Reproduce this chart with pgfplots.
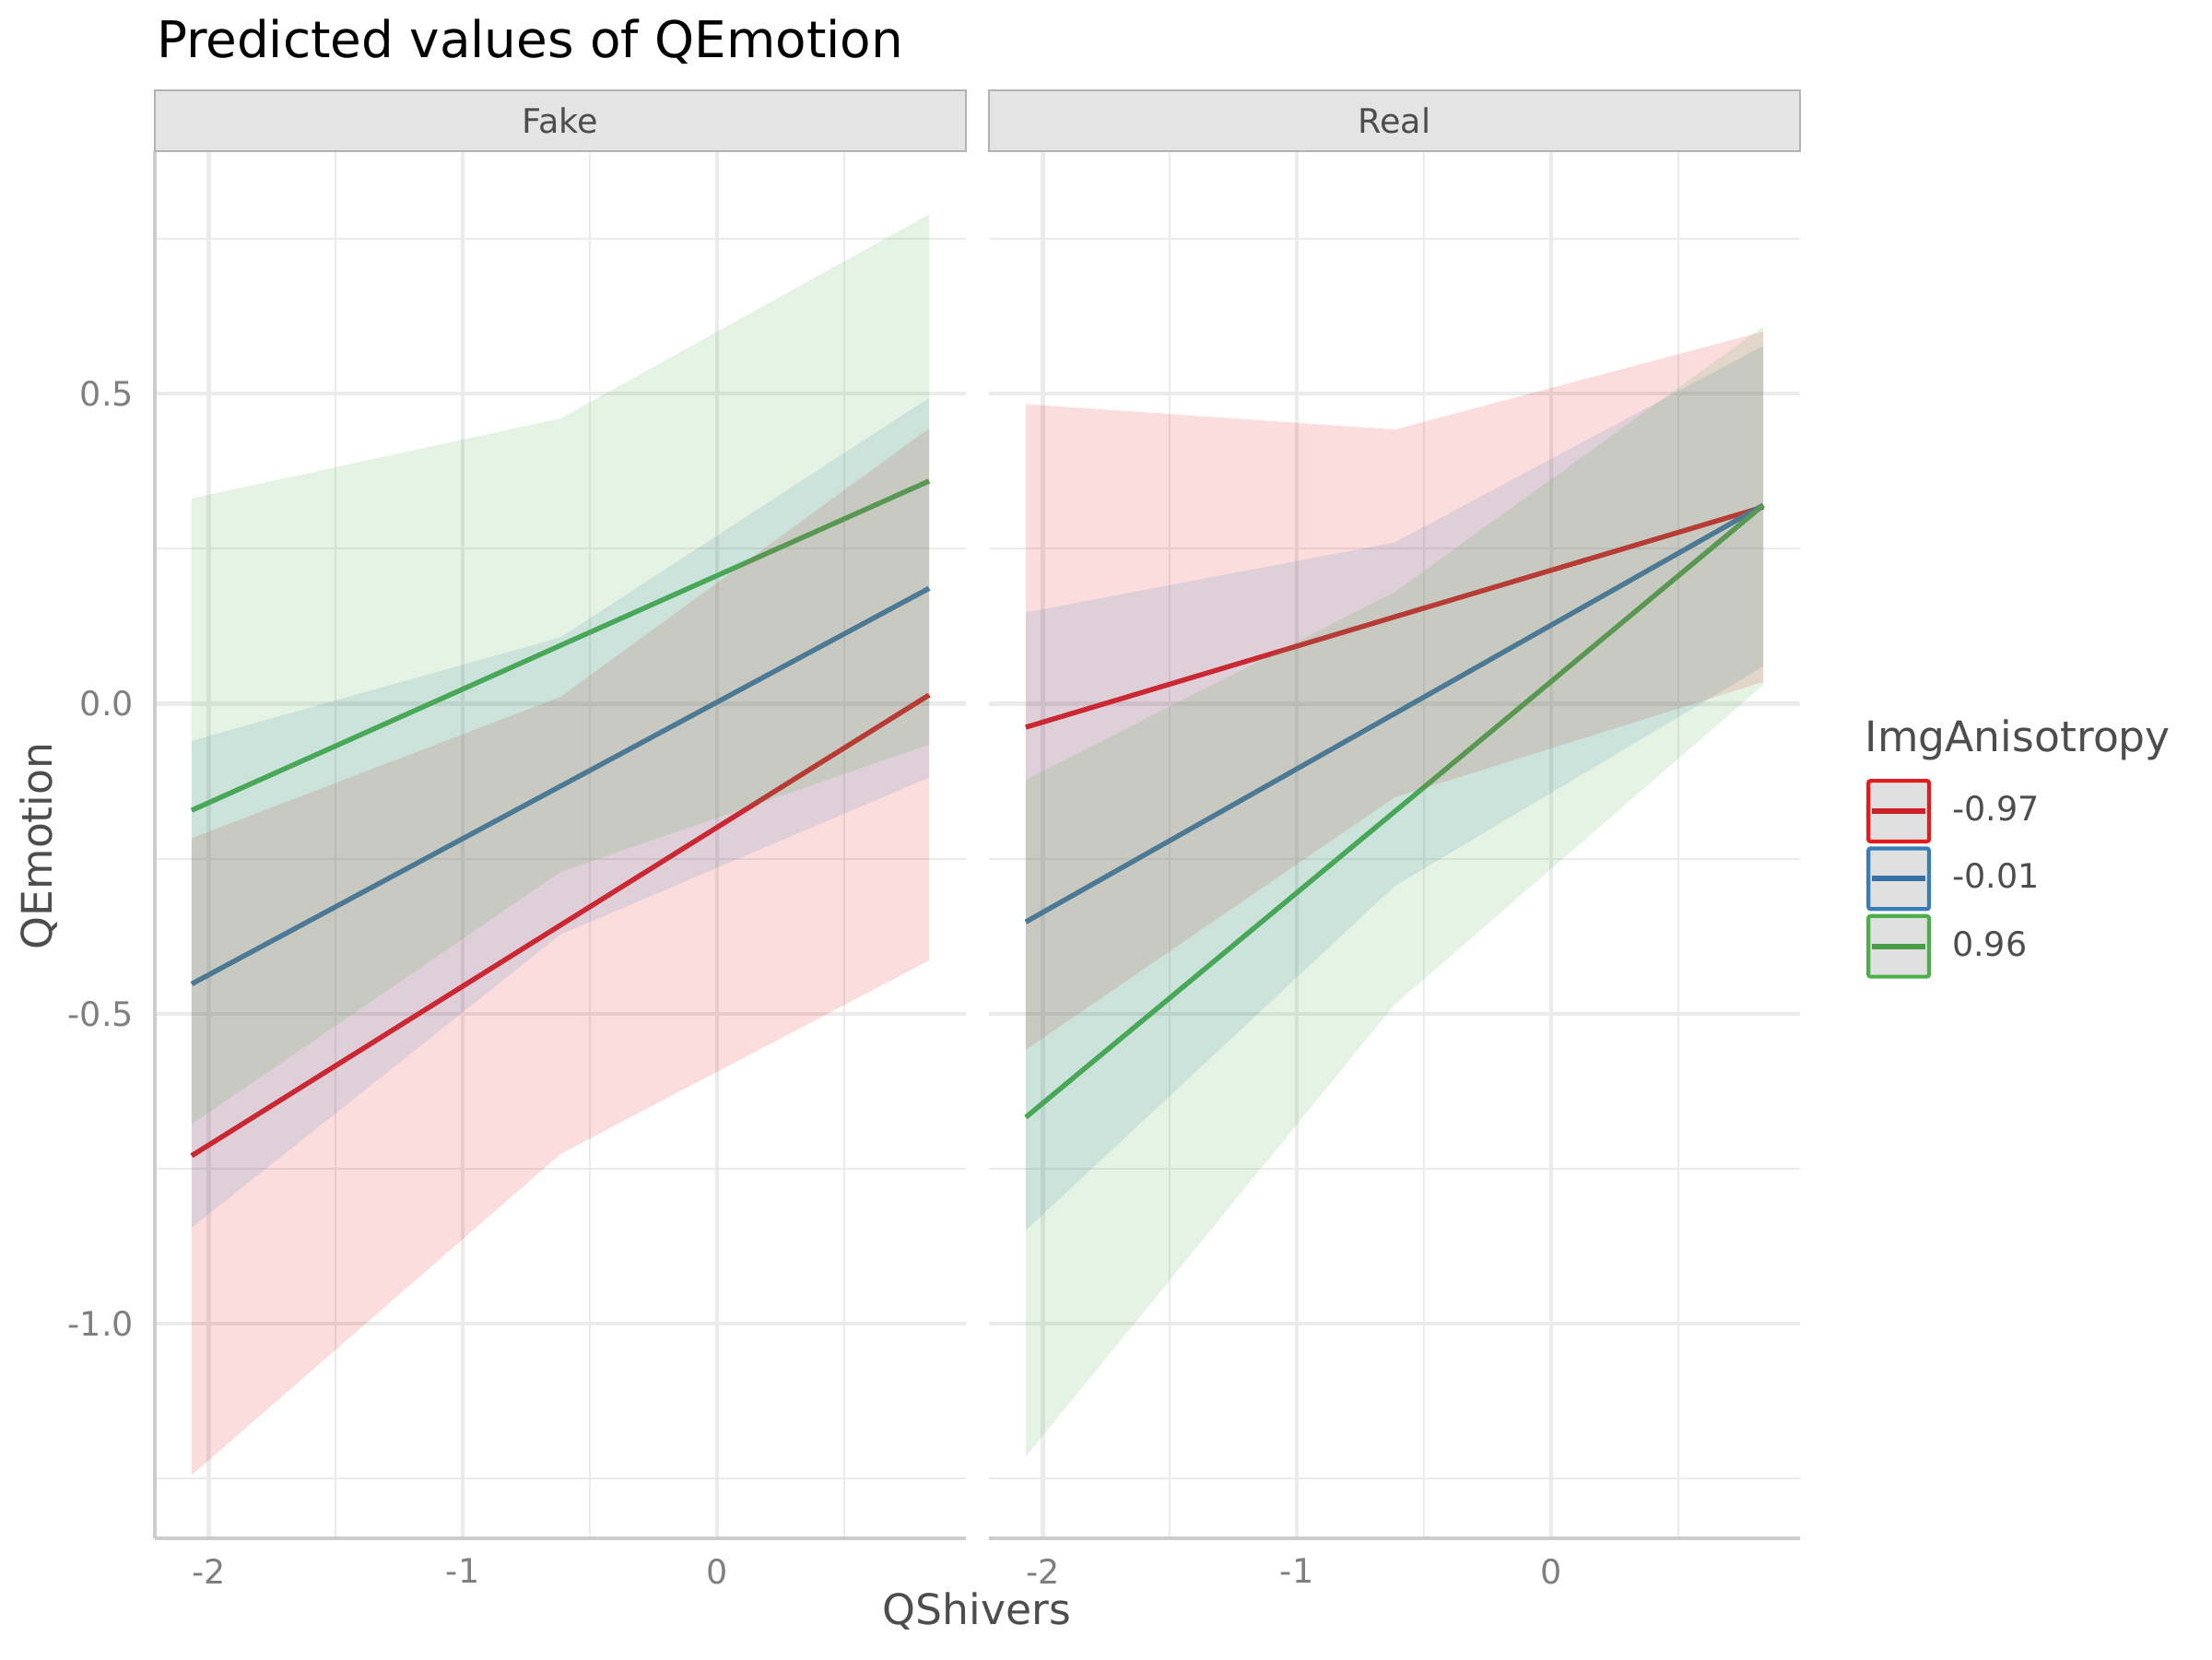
\documentclass[border=0pt]{standalone}
\usepackage{fontspec}
\setmainfont{DejaVu Sans}
\usepackage{pgfplots}
\pgfplotsset{compat=1.18}
\definecolor{setred}{HTML}{E41A1C}
\definecolor{setblue}{HTML}{377EB8}
\definecolor{setgreen}{HTML}{4DAF4A}
\definecolor{keyred}{HTML}{CC2026}
\definecolor{keyblue}{HTML}{3571A6}
\definecolor{keygreen}{HTML}{4A9E47}
\definecolor{gridgray}{HTML}{EBEBEB}
\definecolor{axgray}{HTML}{CCCCCC}
\definecolor{ticktxt}{HTML}{7F7F7F}
\definecolor{labtxt}{HTML}{4D4D4D}
\definecolor{stripfill}{HTML}{E4E4E4}
\definecolor{stripdraw}{HTML}{B3B3B3}
\definecolor{keyfill}{HTML}{E0E0E0}

\pgfplotsset{
  panel/.style={
    scale only axis, width=211.2bp, height=361.2bp, anchor=south west,
    xmin=-2.212, xmax=0.980, ymin=-1.346, ymax=0.891,
    axis line style={draw=none},
    xtick={-2,-1,0}, xticklabels={-2,-1,0},
    ytick={-1,-0.5,0,0.5},
    minor xtick={-1.5,-0.5,0.5},
    minor ytick={-1.25,-0.75,-0.25,0.25,0.75},
    grid=both,
    major grid style={line width=1bp, draw=gridgray},
    minor grid style={line width=0.5bp, draw=gridgray},
    major tick length=0pt, minor tick length=0pt,
    tick style={draw=none},
    every tick label/.append style={inner sep=0pt, outer sep=0pt, font=\fontsize{8.8}{10}\selectfont, text=ticktxt},
    xticklabel shift=5.3bp, yticklabel shift=5.5bp,
    clip=false,
  },
  fitline/.style={line width=1.3bp, no markers, forget plot},
  band/.style={draw=none, fill opacity=0.15, no markers, forget plot},
}

\begin{document}
\begin{tikzpicture}
\path[use as bounding box] (0,0) rectangle (576bp,432bp);

% ---------------- Fake ----------------
\begin{axis}[panel, name=L, at={(40.32bp,31.44bp)},
  yticklabels={-1.0,-0.5,0.0,0.5}]
% lines (drawn first, ribbons over them)
\addplot[fitline, setred]   coordinates {(-2.067,-0.729) (-0.615,-0.357) (0.835,0.014)};
\addplot[fitline, setblue]  coordinates {(-2.067,-0.452) (-0.615,-0.133) (0.835,0.186)};
\addplot[fitline, setgreen] coordinates {(-2.067,-0.172) (-0.615,0.094) (0.835,0.359)};
% ribbons
\addplot[band, fill=setred] coordinates {(-2.067,-0.217) (-0.615,0.011) (0.835,0.444) (0.835,-0.414) (-0.615,-0.726) (-2.067,-1.244)} -- cycle;
\addplot[band, fill=setblue] coordinates {(-2.067,-0.060) (-0.615,0.107) (0.835,0.493) (0.835,-0.119) (-0.615,-0.372) (-2.067,-0.845)} -- cycle;
\addplot[band, fill=setgreen] coordinates {(-2.067,0.331) (-0.615,0.460) (0.835,0.789) (0.835,-0.066) (-0.615,-0.271) (-2.067,-0.678)} -- cycle;
\end{axis}

% ---------------- Real ----------------
\begin{axis}[panel, name=R, at={(257.52bp,31.44bp)},
  yticklabels={},
  legend style={at={(1.08191,0.54745)}, anchor=north west, draw=none, fill=none,
    inner sep=0pt, outer sep=0pt,
    nodes={inner sep=0pt, outer sep=0pt, font=\fontsize{8.8}{10}\selectfont, text=labtxt},
    row sep=0.8bp, column sep=5.5bp},
  legend cell align=left]
\addplot[fitline, setred]   coordinates {(-2.067,-0.038) (-0.615,0.140) (0.835,0.317)};
\addplot[fitline, setblue]  coordinates {(-2.067,-0.352) (-0.615,-0.016) (0.835,0.320)};
\addplot[fitline, setgreen] coordinates {(-2.067,-0.667) (-0.615,-0.174) (0.835,0.320)};
\addplot[band, fill=setred] coordinates {(-2.067,0.483) (-0.615,0.442) (0.835,0.600) (0.835,0.035) (-0.615,-0.151) (-2.067,-0.558)} -- cycle;
\addplot[band, fill=setblue] coordinates {(-2.067,0.147) (-0.615,0.260) (0.835,0.577) (0.835,0.060) (-0.615,-0.294) (-2.067,-0.849)} -- cycle;
\addplot[band, fill=setgreen] coordinates {(-2.067,-0.123) (-0.615,0.180) (0.835,0.608) (0.835,0.030) (-0.615,-0.485) (-2.067,-1.214)} -- cycle;

\addlegendimage{legend image code/.code={
  \draw[draw=setred, line width=1bp, fill=keyfill, rounded corners=0.6bp] (0.5bp,-7.9bp) rectangle (16.3bp,7.9bp);
  \draw[keyred, line width=1.4bp] (1.5bp,0bp) -- (15.3bp,0bp);}}
\addlegendentry{-0.97}
\addlegendimage{legend image code/.code={
  \draw[draw=setblue, line width=1bp, fill=keyfill, rounded corners=0.6bp] (0.5bp,-7.9bp) rectangle (16.3bp,7.9bp);
  \draw[keyblue, line width=1.4bp] (1.5bp,0bp) -- (15.3bp,0bp);}}
\addlegendentry{-0.01}
\addlegendimage{legend image code/.code={
  \draw[draw=setgreen, line width=1bp, fill=keyfill, rounded corners=0.6bp] (0.5bp,-7.9bp) rectangle (16.3bp,7.9bp);
  \draw[keygreen, line width=1.4bp] (1.5bp,0bp) -- (15.3bp,0bp);}}
\addlegendentry{0.96}
\end{axis}

% axis lines
\draw[axgray, line width=1bp] (L.south west) -- (L.north west);
\draw[axgray, line width=1bp] (L.south west) -- (L.south east);
\draw[axgray, line width=1bp] (R.south west) -- (R.south east);

% strips
\draw[fill=stripfill, draw=stripdraw, line width=0.5bp] (L.north west) rectangle ([yshift=15.9bp]L.north east);
\path (L.north west) -- ([yshift=15.9bp]L.north east) node[midway, font=\fontsize{8.8}{10}\selectfont, text=labtxt] {Fake};
\draw[fill=stripfill, draw=stripdraw, line width=0.5bp] (R.north west) rectangle ([yshift=15.9bp]R.north east);
\path (R.north west) -- ([yshift=15.9bp]R.north east) node[midway, font=\fontsize{8.8}{10}\selectfont, text=labtxt] {Real};

% titles
\node[anchor=base west, inner sep=0pt, font=\fontsize{13.2}{15}\selectfont] at (40.6bp,416.9bp) {Predicted values of QEmotion};
\node[anchor=base, inner sep=0pt, font=\fontsize{11}{13}\selectfont, text=labtxt] at (254.4bp,8.9bp) {QShivers};
\node[anchor=base, rotate=90, inner sep=0pt, font=\fontsize{11}{13}\selectfont, text=labtxt] at (13.6bp,211.7bp) {QEmotion};
\node[anchor=base west, inner sep=0pt, font=\fontsize{11}{13}\selectfont, text=labtxt] at (485.5bp,236.2bp) {ImgAnisotropy};
\end{tikzpicture}
\end{document}
